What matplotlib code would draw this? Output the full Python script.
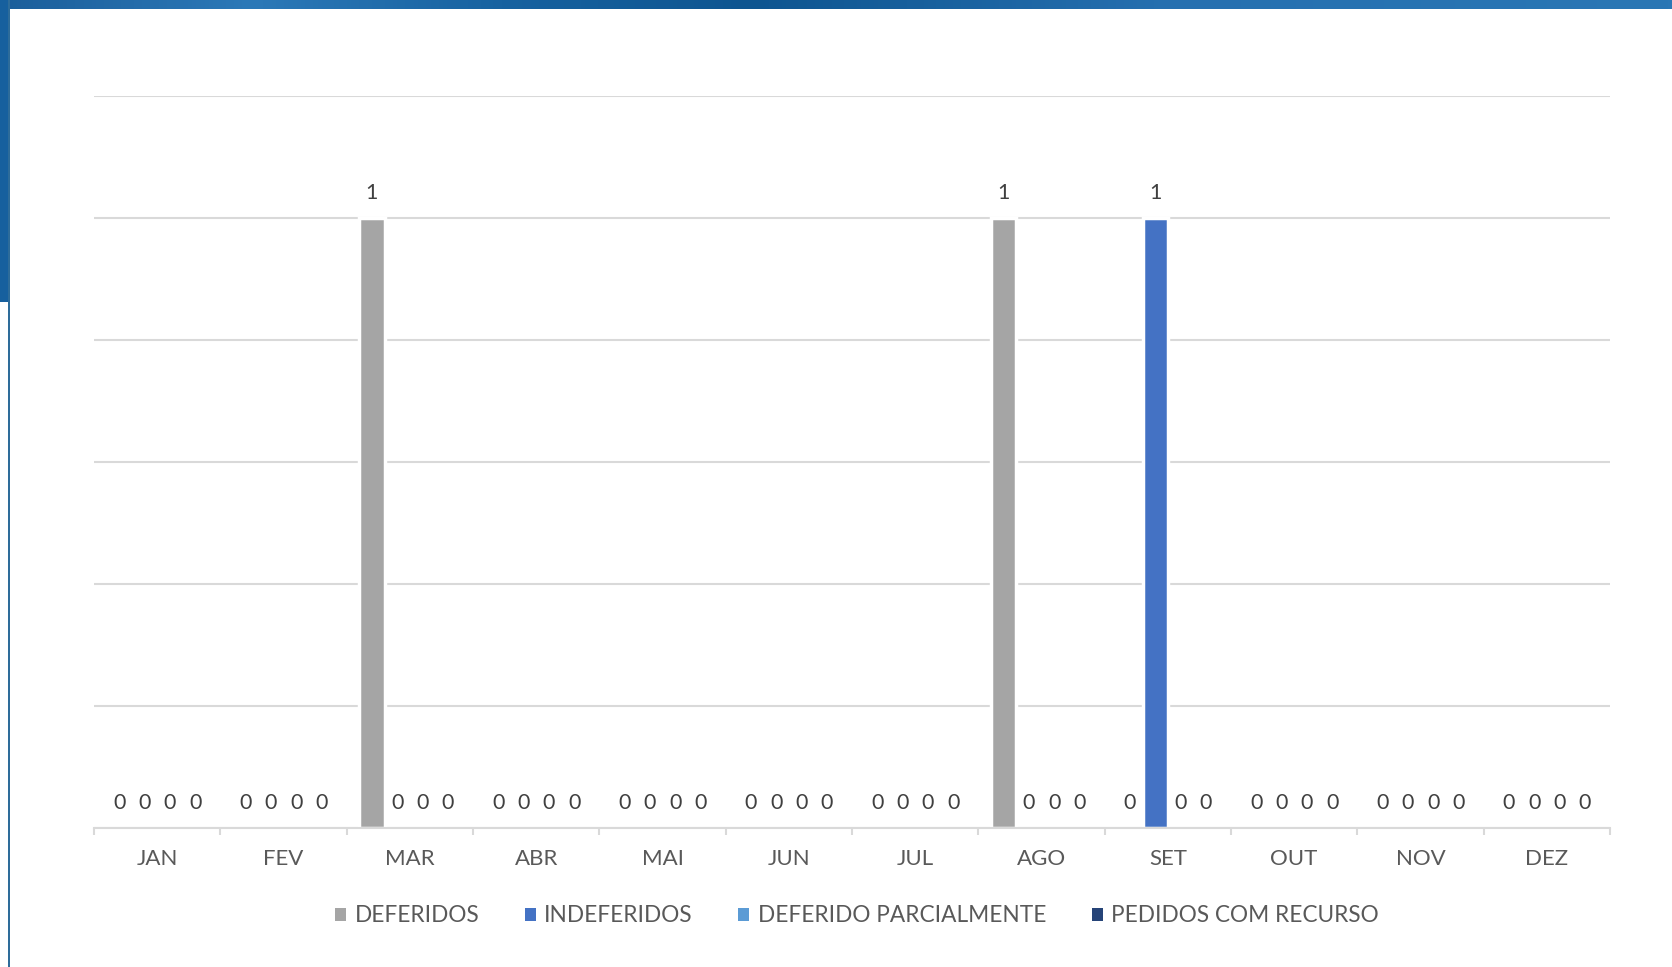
import numpy as np
import matplotlib
matplotlib.use("Agg")
import matplotlib.pyplot as plt
from matplotlib.patches import Patch, Rectangle

plt.rcParams["font.family"] = ["Lato", "DejaVu Sans"]

MONTHS = ["JAN", "FEV", "MAR", "ABR", "MAI", "JUN",
          "JUL", "AGO", "SET", "OUT", "NOV", "DEZ"]
SERIES = ["DEFERIDOS", "INDEFERIDOS", "DEFERIDO PARCIALMENTE", "PEDIDOS COM RECURSO"]
DEFERIDOS = [0, 0, 1, 0, 0, 0, 0, 1, 0, 0, 0, 0]
INDEFERIDOS = [0, 0, 0, 0, 0, 0, 0, 0, 1, 0, 0, 0]
DEFERIDO_PARCIAL = [0, 0, 0, 0, 0, 0, 0, 0, 0, 0, 0, 0]
PEDIDOS_RECURSO = [0, 0, 0, 0, 0, 0, 0, 0, 0, 0, 0, 0]
COLORS = ["#A5A5A5", "#4472C4", "#5B9BD5", "#264478"]

W, H = 1672, 967
fig = plt.figure(figsize=(W / 100, H / 100), dpi=100)
fig.patch.set_facecolor("white")

# --- decorative slide frame: gradient bar on top, blue strip on the left ----
band = fig.add_axes([0, 1 - 9 / H, 1, 9 / H])
stops = np.array([[0.00, 0x1B, 0x5E, 0x9A], [0.15, 0x2C, 0x79, 0xB8],
                  [0.30, 0x17, 0x62, 0xA0], [0.45, 0x0E, 0x55, 0x90],
                  [0.70, 0x26, 0x70, 0xB0], [1.00, 0x2A, 0x77, 0xB5]])
xs = np.linspace(0, 1, 400)
grad = np.stack([np.interp(xs, stops[:, 0], stops[:, i]) for i in (1, 2, 3)], axis=-1) / 255
band.imshow(grad[None, :, :], aspect="auto", extent=(0, 1, 0, 1))
band.axis("off")
fig.add_artist(Rectangle((0, 1 - 302 / H), 10 / W, 302 / H, transform=fig.transFigure,
                         facecolor="#17609E", edgecolor="none", zorder=5))
fig.add_artist(Rectangle((8 / W, 0), 2 / W, 1, transform=fig.transFigure,
                         facecolor="#2E6C9A", edgecolor="none", zorder=5))

# --- chart ----------------------------------------------------------------
ax = fig.add_axes([94 / W, 1 - 828 / H, (1610 - 94) / W, (828 - 96) / H])
x = np.arange(len(MONTHS))
values = [DEFERIDOS, INDEFERIDOS, DEFERIDO_PARCIAL, PEDIDOS_RECURSO]
step = 0.2
for i, (name, vals, col) in enumerate(zip(SERIES, values, COLORS)):
    bars = ax.bar(x + (i - 1.5) * step, vals, width=step, color=col,
                  edgecolor="white", linewidth=2.5, zorder=2)
    ax.bar_label(bars, labels=[str(v) for v in vals], padding=11,
                 fontsize=15.5, color="#404040")

ax.set_xlim(-0.5, len(MONTHS) - 0.5)
ax.set_ylim(0, 1.2)
ax.set_yticks(np.arange(0, 1.21, 0.2))
ax.yaxis.grid(True, color="#D9D9D9", linewidth=1.5)
ax.set_axisbelow(True)
ax.tick_params(axis="y", left=False, labelleft=False)
for s in ("left", "right", "top"):
    ax.spines[s].set_visible(False)
ax.spines["bottom"].set_color("#D9D9D9")
ax.spines["bottom"].set_linewidth(1.5)
ax.spines["bottom"].set_zorder(3)

ax.set_xticks(x)
ax.set_xticklabels(MONTHS, fontsize=16, color="#595959")
ax.tick_params(axis="x", which="major", length=0, pad=15)
ax.set_xticks(np.arange(-0.5, len(MONTHS), 1), minor=True)
ax.tick_params(axis="x", which="minor", length=5, width=1.5, color="#D9D9D9")

handles = [Patch(facecolor=c, edgecolor="none", label=n) for n, c in zip(SERIES, COLORS)]
fig.legend(handles=handles, loc="center", bbox_to_anchor=(857 / W, 1 - 916 / H),
           ncol=4, frameon=False, fontsize=16.3, labelcolor="#595959",
           handlelength=0.49, handleheight=0.49, handletextpad=0.38,
           columnspacing=2.0)

fig.savefig("out.png", dpi=100, facecolor="white")
